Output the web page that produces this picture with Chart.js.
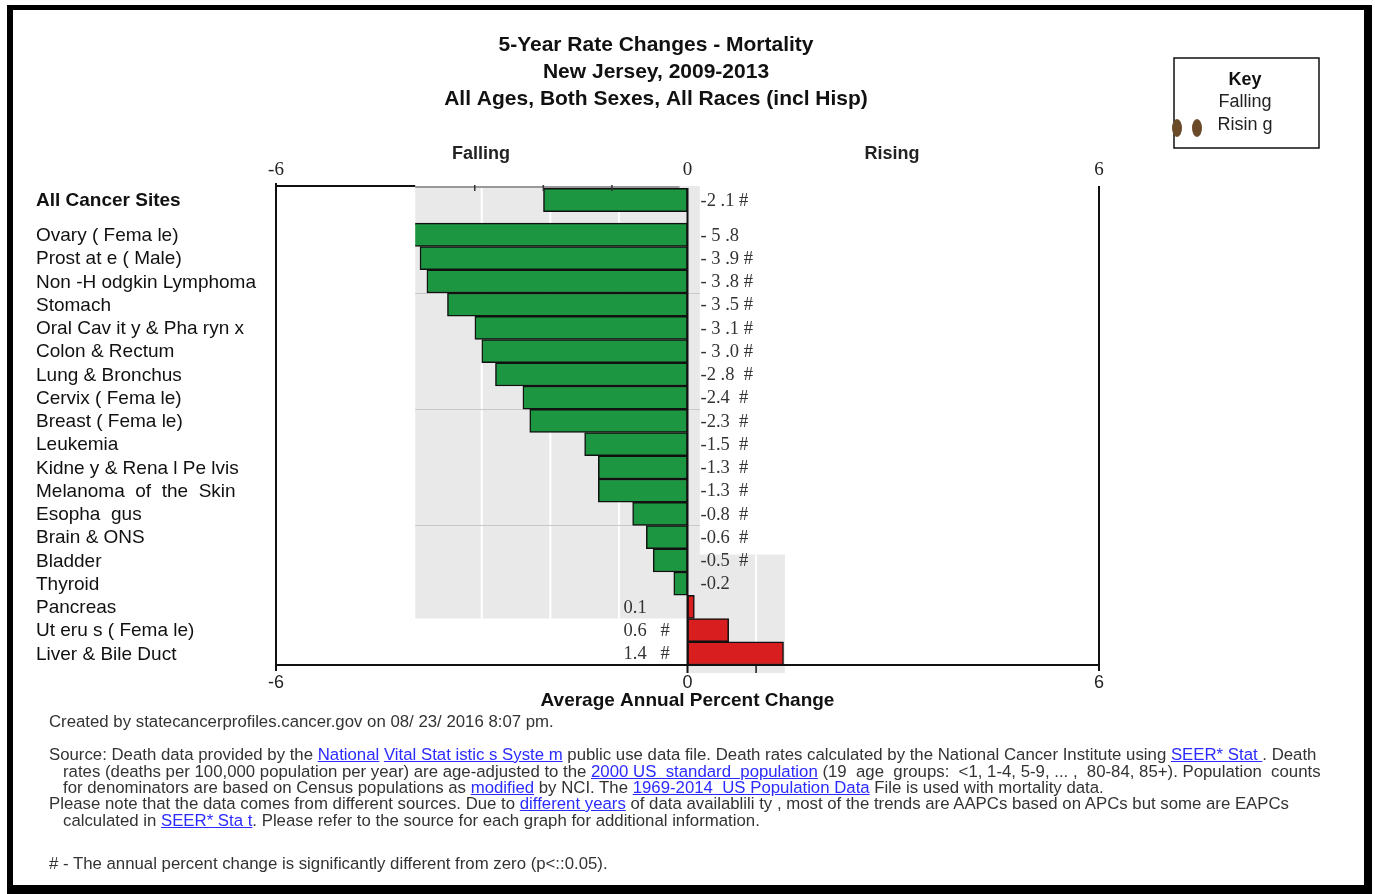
<!DOCTYPE html>
<html>
<head>
<meta charset="utf-8">
<title>5-Year Rate Changes - Mortality, New Jersey</title>
<script src="https://cdn.jsdelivr.net/npm/chart.js@4.4.1/dist/chart.umd.min.js"></script>
<style>
  html, body { margin: 0; padding: 0; background: #fff; }
  #wrap { position: relative; width: 1375px; height: 894px; overflow: hidden; }
  #chart { position: absolute; left: 0; top: 0; }
  .note { position: absolute; font: 16.8px "Liberation Sans", Arial, sans-serif; color: #333; white-space: nowrap; line-height: 16px; }
  .note a { color: #2b2bff; text-decoration: underline; }
</style>
</head>
<body>
<div id="wrap">
  <canvas id="chart" width="1375" height="894"></canvas>
  <div class="note" style="left:49px;top:714px">Created by statecancerprofiles.cancer.gov on 08/ 23/ 2016 8:07 pm.</div>
  <div class="note" style="left:49px;top:747px">Source: Death data provided by the <a href="#">National</a> <a href="#">Vital Stat istic s Syste m</a> public use data file. Death rates calculated by the National Cancer Institute using <a href="#">SEER* Stat </a>. Death</div>
  <div class="note" style="left:63px;top:764px">rates (deaths per 100,000 population per year) are age-adjusted to the <a href="#">2000 US&nbsp; standard&nbsp; population</a> (19&nbsp; age&nbsp; groups:&nbsp; &lt;1, 1-4, 5-9, ... ,&nbsp; 80-84, 85+). Population&nbsp; counts</div>
  <div class="note" style="left:63px;top:780px">for denominators are based on Census populations as <a href="#">modified</a> by NCI. The <a href="#">1969-2014&nbsp; US Population Data</a> File is used with mortality data.</div>
  <div class="note" style="left:49px;top:796px">Please note that the data comes from different sources. Due to <a href="#">different years</a> of data availablili ty , most of the trends are AAPCs based on APCs but some are EAPCs</div>
  <div class="note" style="left:63px;top:813px">calculated in <a href="#">SEER* Sta t</a>. Please refer to the source for each graph for additional information.</div>
  <div class="note" style="left:49px;top:856px"># - The annual percent change is significantly different from zero (p&lt;::0.05).</div>
</div>
<script>
/* DATA */
const sites = [
  "All Cancer Sites", "Ovary ( Fema le)", "Prost at e ( Male)", "Non -H odgkin Lymphoma",
  "Stomach", "Oral Cav it y & Pha ryn x", "Colon & Rectum", "Lung & Bronchus",
  "Cervix ( Fema le)", "Breast ( Fema le)", "Leukemia", "Kidne y & Rena l Pe lvis",
  "Melanoma  of  the  Skin", "Esopha  gus", "Brain & ONS", "Bladder", "Thyroid",
  "Pancreas", "Ut eru s ( Fema le)", "Liver & Bile Duct"
];
const aapc = [-2.1, -5.8, -3.9, -3.8, -3.5, -3.1, -3.0, -2.8, -2.4, -2.3,
              -1.5, -1.3, -1.3, -0.8, -0.6, -0.5, -0.2, 0.1, 0.6, 1.4];
const aapcText = ["-2 .1 #", "- 5 .8", "- 3 .9 #", "- 3 .8 #", "- 3 .5 #", "- 3 .1 #",
                  "- 3 .0 #", "-2 .8  #", "-2.4  #", "-2.3  #", "-1.5  #", "-1.3  #",
                  "-1.3  #", "-0.8  #", "-0.6  #", "-0.5  #", "-0.2", "0.1", "0.6   #", "1.4   #"];
const xTicks = [-6, 0, 6];
const xMin = -6, xMax = 6;
const panelFrom = -3.97;   // the bar image is cut off here (Ovary bar is clipped)

const GREEN = "#1d9641";
const RED = "#d81e1e";
const SANS = '"Liberation Sans", Arial, sans-serif';
const SERIF = '"Liberation Serif", "Times New Roman", serif';

// All Cancer Sites sits a half row apart from the others
const rowPos = sites.map((s, i) => i === 0 ? 0 : i + 0.5);

function txt(ctx, s, x, y, font, color, align) {
  ctx.font = font;
  ctx.fillStyle = color;
  ctx.textAlign = align || "left";
  ctx.textBaseline = "middle";
  ctx.fillText(s, x, y);
}

/* DECORATION PLUGIN */
const decor = {
  id: "decor",
  beforeDatasetsDraw(chart) {
    const { ctx, chartArea: a, scales: { x, y } } = chart;
    const rowH = y.getPixelForValue(1) - y.getPixelForValue(0);
    const x0 = x.getPixelForValue(0);
    const pL = x.getPixelForValue(panelFrom);
    const pR = x.getPixelForValue(0.18);
    const pB = y.getPixelForValue(rowPos[17]) + rowH / 2;
    const qT = y.getPixelForValue(rowPos[15]) - rowH * 0.25;
    const qR = x.getPixelForValue(1.42);
    ctx.save();
    ctx.fillStyle = "#e9e9e9";
    ctx.fillRect(pL, a.top, pR - pL, pB - a.top);
    ctx.fillRect(x0, qT, qR - x0, a.bottom + 8 - qT);
    // white vertical grid inside the grey image
    ctx.strokeStyle = "#fff";
    ctx.lineWidth = 2;
    [-3, -2, -1].forEach(v => {
      const px = x.getPixelForValue(v);
      ctx.beginPath(); ctx.moveTo(px, a.top); ctx.lineTo(px, pB); ctx.stroke();
    });
    const p1 = x.getPixelForValue(1);
    ctx.beginPath(); ctx.moveTo(p1, qT); ctx.lineTo(p1, a.bottom + 8); ctx.stroke();
    // faint horizontal grid every five rows
    ctx.strokeStyle = "#c8c8c8";
    ctx.lineWidth = 1;
    [4, 9, 14].forEach(v => {
      const py = Math.round(y.getPixelForValue(v)) + 0.5;
      ctx.beginPath(); ctx.moveTo(pL, py); ctx.lineTo(pR, py); ctx.stroke();
    });
    ctx.restore();
    // clip bars to the image edge
    ctx.save();
    ctx.beginPath();
    ctx.rect(pL, 0, chart.width - pL, chart.height);
    ctx.clip();
  },
  afterDatasetsDraw(chart) {
    const { ctx, chartArea: a, scales: { x, y } } = chart;
    ctx.restore();
    const x0 = x.getPixelForValue(0);
    const pL = x.getPixelForValue(panelFrom);
    ctx.save();
    // axes
    ctx.strokeStyle = "#111";
    ctx.lineWidth = 2;
    ctx.beginPath();
    ctx.moveTo(a.left, a.top); ctx.lineTo(pL, a.top);
    ctx.moveTo(a.left, a.top - 3); ctx.lineTo(a.left, a.bottom);
    ctx.lineTo(a.right, a.bottom);
    ctx.moveTo(a.right, a.top); ctx.lineTo(a.right, a.bottom + 6);
    ctx.moveTo(a.left, a.bottom); ctx.lineTo(a.left, a.bottom + 6);
    ctx.stroke();
    ctx.strokeStyle = "#999";
    ctx.lineWidth = 2;
    ctx.beginPath(); ctx.moveTo(pL, a.top + 1); ctx.lineTo(x0 - 8, a.top + 1); ctx.stroke();
    ctx.strokeStyle = "#333";
    ctx.lineWidth = 1.5;
    [-3, -2, -1].forEach(v => {
      const px = x.getPixelForValue(v) - 7;
      ctx.beginPath(); ctx.moveTo(px, a.top - 1); ctx.lineTo(px, a.top + 5); ctx.stroke();
    });
    // zero line
    ctx.strokeStyle = "#111";
    ctx.lineWidth = 2;
    ctx.beginPath(); ctx.moveTo(x0, a.top + 2); ctx.lineTo(x0, a.bottom + 8); ctx.stroke();
    ctx.lineWidth = 1.5;
    const p1 = x.getPixelForValue(1);
    ctx.beginPath(); ctx.moveTo(p1, a.bottom); ctx.lineTo(p1, a.bottom + 8); ctx.stroke();

    // tick labels
    xTicks.forEach(v => {
      const px = x.getPixelForValue(v);
      txt(ctx, String(v), px, a.top - 16, "19px " + SERIF, "#222", "center");
      txt(ctx, String(v), px, a.bottom + 18, "18px " + SANS, "#222", "center");
    });
    txt(ctx, "Falling", 481, 154, "bold 18px " + SANS, "#222", "center");
    txt(ctx, "Rising", 892, 154, "bold 18px " + SANS, "#222", "center");
    txt(ctx, "Average Annual Percent Change", x0, 701, "bold 19px " + SANS, "#111", "center");

    // category labels and values
    sites.forEach((s, i) => {
      const py = y.getPixelForValue(rowPos[i]);
      txt(ctx, s, 36, py + 1, (i === 0 ? "bold " : "") + "19px " + SANS, "#111");
      const vx = aapc[i] < 0 ? x0 + 13 : x0 - 64;
      txt(ctx, aapcText[i], vx, py + 1, "18.5px " + SERIF, "#333");
    });

    // title
    const cx = 656;
    txt(ctx, "5-Year Rate Changes - Mortality", cx, 45, "bold 21px " + SANS, "#111", "center");
    txt(ctx, "New Jersey, 2009-2013", cx, 72, "bold 21px " + SANS, "#111", "center");
    txt(ctx, "All Ages, Both Sexes, All Races (incl Hisp)", cx, 99, "bold 21px " + SANS, "#111", "center");

    // key box
    ctx.strokeStyle = "#111";
    ctx.lineWidth = 1.5;
    ctx.strokeRect(1174, 58, 145, 90);
    txt(ctx, "Key", 1245, 80, "bold 18px " + SANS, "#111", "center");
    txt(ctx, "Falling", 1245, 102, "18px " + SANS, "#222", "center");
    txt(ctx, "Risin g", 1245, 125, "18px " + SANS, "#222", "center");
    ctx.fillStyle = "#6b4a2a";
    [1177, 1197].forEach(ex => {
      ctx.beginPath(); ctx.ellipse(ex, 128, 5, 9, 0, 0, Math.PI * 2); ctx.fill();
    });

    // outer frame
    ctx.fillStyle = "#000";
    ctx.fillRect(7, 5, 6, 889);
    ctx.fillRect(7, 5, 1365, 5);
    ctx.fillRect(1364, 5, 8, 889);
    ctx.fillRect(7, 885, 1365, 9);
    ctx.restore();
  }
};

/* CHART */
new Chart(document.getElementById("chart"), {
  type: "bar",
  data: {
    datasets: [{
      data: aapc.map((v, i) => ({ x: v, y: rowPos[i] })),
      backgroundColor: aapc.map(v => v < 0 ? GREEN : RED),
      borderColor: "#111",
      borderWidth: 1.5,
      borderSkipped: false,
      barPercentage: 1,
      categoryPercentage: 1
    }]
  },
  options: {
    indexAxis: "y",
    responsive: false,
    animation: false,
    devicePixelRatio: 1,
    layout: { padding: { left: 276, right: 276, top: 186, bottom: 229 } },
    plugins: { legend: { display: false }, tooltip: { enabled: false } },
    scales: {
      x: { type: "linear", min: xMin, max: xMax, display: false },
      y: { type: "linear", min: -0.6, max: 20, reverse: true, offset: false, display: false }
    }
  },
  plugins: [decor]
});
</script>
</body>
</html>
